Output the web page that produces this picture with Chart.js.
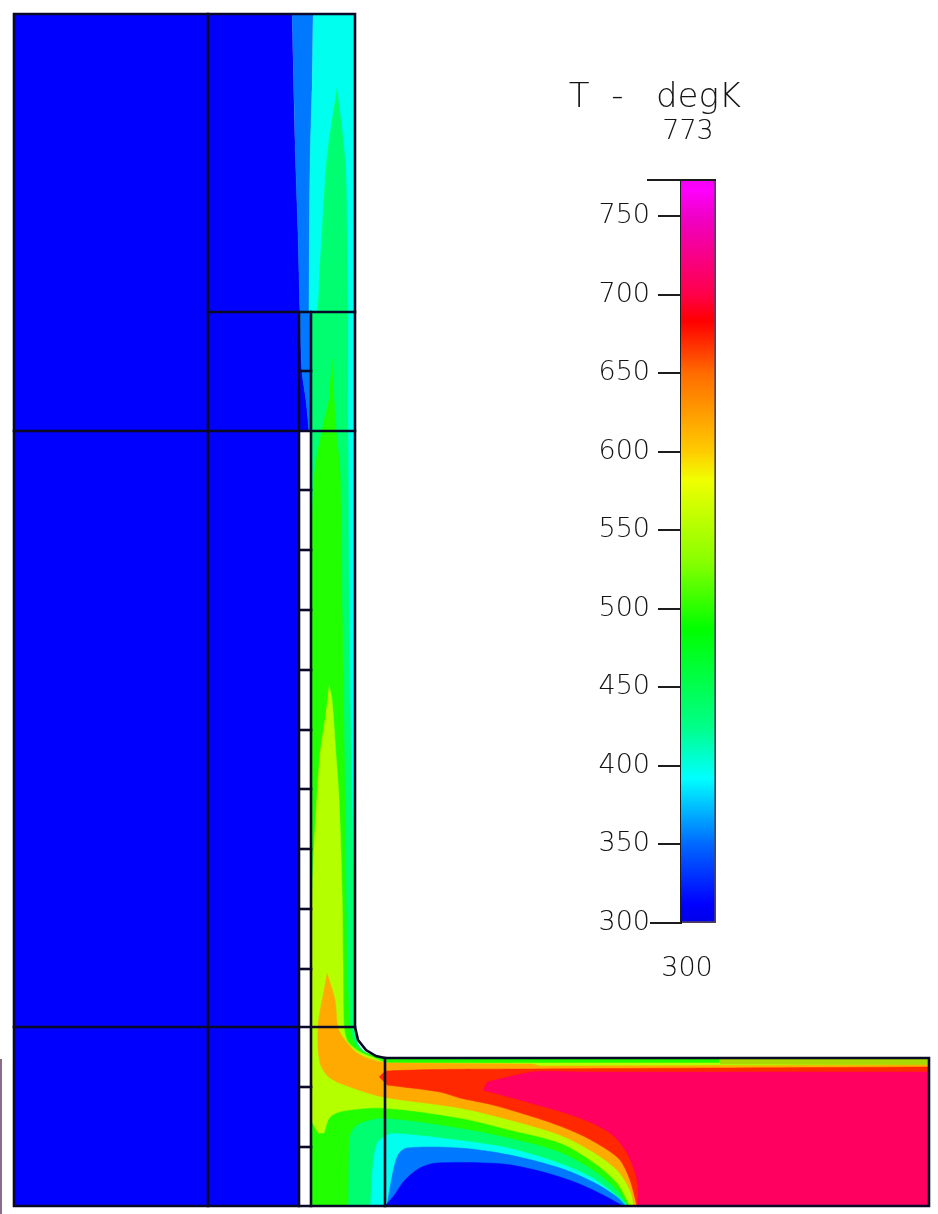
<!DOCTYPE html>
<html>
<head>
<meta charset="utf-8">
<title>T - degK</title>
<style>
html,body{margin:0;padding:0;background:#fff;width:938px;height:1214px;overflow:hidden}
canvas{position:absolute;display:block;filter:blur(0.45px)}
#field{left:0;top:0}
#bar{left:540px;top:70px}
</style>
<script src="https://cdn.jsdelivr.net/npm/chart.js@4/dist/chart.umd.min.js"></script>
</head>
<body>
<canvas id="field" width="938" height="1214"></canvas>
<canvas id="bar" width="230" height="920"></canvas>
<script>
// ---- colour legend ----
const legendTitle = 'T  -   degK';
const legendMin = 300;
const legendMax = 773;
const legendStep = 50;
const legendTemps = [300, 312, 350, 392, 425, 487, 530, 582, 600, 650, 683, 700, 750, 767, 773];
const legendColors = ['#0000e8', '#0000ff', '#0068ff', '#00ffff', '#00ff88', '#00ff00', '#88ff00', '#f0ff00', '#ffcc00', '#ff6c00', '#ff0000', '#ff0048', '#f000c8', '#ff00ff', '#f000f0'];

// ---- temperature bands, outlines (drawing coordinates).
// A third entry of 1 marks a sharp corner of the outline. ----
const coldWeb = [[14,14,1],[292,14,1],[295,143],[298,233],[300,312],[302,371],[306,400],[309,431,1],[299,431,1],[299,1206,1],[14,1206,1]];
const coolStrip = [[292,14,1],[313,14,1],[312,90],[310,170],[309,312,1],[311,312,1],[311,431,1],[309,431,1],[306,400],[302,371],[300,312],[298,233],[295,143]];
const cyanBody = [[313,14,1],[355,14,1],[355,1027,1],[358,1044],[366,1053],[385,1058,1],[929,1058,1],[929,1206,1],[311,1206,1],[311,312,1],[309,312,1],[310,170],[312,90]];
const springBody = [[337,88,1],[345,160],[347,233],[348,310],[348,431],[350,700],[352,800],[355,1000,1],[355,1027,1],[358,1044],[366,1053],[385,1058,1],[929,1058,1],[929,1206,1],[628,1206,1],[617,1196],[593,1178],[560,1163],[510,1148],[460,1140],[393,1133],[383,1137],[377,1143],[373,1160],[370,1206,1],[311,1206,1],[311,312,1],[317,312],[320,267],[326,170],[330,133]];
const greenBody = [[332,358,1],[336,431],[340,470],[342,600],[345,800],[347,950],[350,1027],[354,1042],[364,1052],[385,1059,1],[929,1059,1],[929,1206,1],[628,1206,1],[617,1190],[593,1170],[560,1152],[510,1138],[460,1128],[383,1118],[360,1123],[352,1130],[349,1140],[348,1206,1],[311,1206,1],[311,560,1],[312,520],[315,470],[322,431],[329,400]];
const limeBody = [[329,685,1],[332,700],[336,755],[339,798],[342,890],[343,966],[344,1027],[348,1042],[360,1052],[377,1059],[385,1063,1],[720,1063,1],[720,1059,1],[929,1059,1],[929,1206,1],[630,1206,1],[617,1183],[593,1162],[560,1143],[510,1130],[460,1118],[383,1108],[343,1111],[330,1117],[324,1133,1],[318,1133,1],[311,1120,1],[311,950,1],[313,870],[316,813],[320,755],[325,720]];
const oliveCap = [[720,1059,1],[929,1059,1],[929,1065,1],[720,1064,1]];
const orangeBody = [[327,973,1],[335,1000],[338,1028],[345,1040],[357,1053],[373,1060],[387,1063,1],[533,1064,1],[540,1066,1],[929,1065,1],[929,1206,1],[634,1206,1],[630,1190],[617,1170],[593,1152],[560,1135],[510,1120],[460,1108],[383,1097],[353,1088],[330,1078],[320,1063],[318,1027],[322,1000]];
const redBody = [[379,1077,1],[387,1071],[533,1069],[929,1067,1],[929,1206,1],[637,1206,1],[630,1180],[620,1160],[603,1147],[577,1133],[543,1120],[493,1105],[460,1098],[440,1092],[387,1085]];
const pinkBody = [[487,1082,1],[533,1072],[577,1072],[929,1072,1],[929,1206,1],[638,1206,1],[637,1180],[627,1153],[610,1133],[577,1117],[527,1102],[483,1090,1]];
const footBlue = [[387,1206,1],[392,1177],[398,1155],[407,1148],[460,1148],[510,1155],[560,1168],[593,1182],[617,1197],[626,1206,1]];
const footDeep = [[385,1206,1],[393,1197],[405,1180],[420,1168],[437,1163],[503,1164],[543,1172],[577,1183],[603,1195],[623,1206,1]];

const bandOutlines = [coldWeb, coolStrip, cyanBody, springBody, greenBody, limeBody, oliveCap, orangeBody, redBody, pinkBody, footBlue, footDeep];
const bandColors = ['#0000ff', '#0078ff', '#00ffee', '#00ff70', '#22ff00', '#b4ff00', '#a8d800', '#ffaa00', '#ff2800', '#ff0060', '#0078ff', '#0000ff'];

// ---- mesh outline ----
const meshOutline = [[14,14],[355,14],[355,1027],[358,1040],[366,1050],[376,1056],[385,1058],[929,1058],[929,1206],[14,1206],[14,14]];
const meshVerticals = [[208,14,1206],[311,312,1206],[299,312,1206],[385,1058,1206]];
const meshHorizontals = [[208,355,312],[14,355,431],[14,355,1027]];
const wallTicks = [371,490,550,610,670,730,789,849,909,969,1087,1147];
const wallTickFrom = 299;
const wallTickTo = 311;
const edgeStub = [[1,1060],[1,1214]];

function pts(list){
  const out = [];
  list.forEach(p => {
    out.push({x:p[0], y:p[1]});
    if(p[2]) out.push({x:p[0], y:p[1]});
  });
  return out;
}

const datasets = [];
bandOutlines.forEach((o,i) => datasets.push({
  data: pts(o), showLine:true, fill:'shape', tension:0.3, pointRadius:0,
  backgroundColor: bandColors[i], borderColor: bandColors[i], borderWidth:0.5
}));
function meshLine(list, colour, width){
  datasets.push({data: pts(list), showLine:true, fill:false, tension:0, pointRadius:0,
    borderColor: colour || '#0a0a28', borderWidth: width || 2.6, borderJoinStyle:'miter', borderCapStyle:'square'});
}
meshLine(edgeStub, '#8c6c88', 2);
meshVerticals.forEach(v => meshLine([[v[0],v[1]],[v[0],v[2]]]));
meshHorizontals.forEach(h => meshLine([[h[0],h[2]],[h[1],h[2]]]));
wallTicks.forEach(t => meshLine([[wallTickFrom,t],[wallTickTo,t]]));
meshLine(meshOutline);
datasets.forEach((d,i) => { d.order = datasets.length - i; });

new Chart(document.getElementById('field'), {
  type:'scatter',
  data:{datasets},
  options:{
    responsive:false, animation:false, events:[],
    layout:{padding:0},
    plugins:{legend:{display:false}, tooltip:{enabled:false}, title:{display:false}},
    scales:{
      x:{type:'linear', display:false, min:0, max:938},
      y:{type:'linear', display:false, min:0, max:1214, reverse:true}
    }
  }
});

// ---- legend chart ----
const legendInk = '#141414';
const legendFont = {family:'"DejaVu Sans ExtraLight","DejaVu Sans"', size:27, weight:'200'};
const legendEnds = {
  id:'legendEnds',
  afterDraw(chart){
    const c = chart.ctx, y = chart.scales.y, a = chart.chartArea;
    c.save();
    c.strokeStyle = '#1c1c1c'; c.lineWidth = 2;
    c.beginPath();
    c.moveTo(a.left-34, y.getPixelForValue(legendMax)); c.lineTo(a.right, y.getPixelForValue(legendMax));
    c.moveTo(a.left-31, y.getPixelForValue(legendMin)); c.lineTo(a.left, y.getPixelForValue(legendMin));
    c.stroke();
    c.fillStyle = legendInk;
    c.font = `200 ${legendFont.size}px ${legendFont.family}`;
    c.textAlign = 'center'; c.textBaseline = 'middle';
    c.fillText(String(legendMax), a.left+7, y.getPixelForValue(legendMax)-48);
    c.fillText(String(legendMin), a.left+6, y.getPixelForValue(legendMin)+46);
    c.restore();
  }
};
function legendFill(ctx){
  const chart = ctx.chart, y = chart.scales.y;
  if(!chart.chartArea || !y) return legendColors[0];
  const g = chart.ctx.createLinearGradient(0, y.getPixelForValue(legendMin), 0, y.getPixelForValue(legendMax));
  legendTemps.forEach((t,i) => g.addColorStop((t-legendMin)/(legendMax-legendMin), legendColors[i]));
  return g;
}
new Chart(document.getElementById('bar'), {
  type:'bar',
  data:{labels:[''], datasets:[{data:[[legendMin,legendMax]], backgroundColor:legendFill,
    borderColor:'rgba(20,0,40,0.75)', borderWidth:{right:2,bottom:2,top:0,left:0}, borderSkipped:false,
    barPercentage:1, categoryPercentage:1}]},
  plugins:[legendEnds],
  options:{
    responsive:false, animation:false, events:[],
    layout:{padding:{right:0,bottom:67,left:0,top:0}},
    plugins:{legend:{display:false}, tooltip:{enabled:false},
      title:{display:true, text:legendTitle, color:legendInk, padding:{top:8,bottom:61},
        font:{family:legendFont.family, size:34, weight:'200', lineHeight:'41px'}}},
    scales:{
      x:{display:false},
      y:{min:legendMin, max:legendMax, position:'left',
        afterFit(s){ s.width = 141; },
        grid:{drawOnChartArea:false, drawTicks:true, tickLength:23, color:'#1c1c1c', lineWidth:2},
        border:{display:true, color:'#1c1c1c', width:2},
        ticks:{stepSize:legendStep, includeBounds:false, autoSkip:false, color:legendInk, padding:8, font:legendFont}
      },
      spacer:{type:'linear', position:'right', min:legendMin, max:legendMax,
        afterFit(s){ s.width = 54; },
        grid:{display:false}, border:{display:false}, ticks:{display:false}
      }
    }
  }
});
</script>
</body>
</html>
